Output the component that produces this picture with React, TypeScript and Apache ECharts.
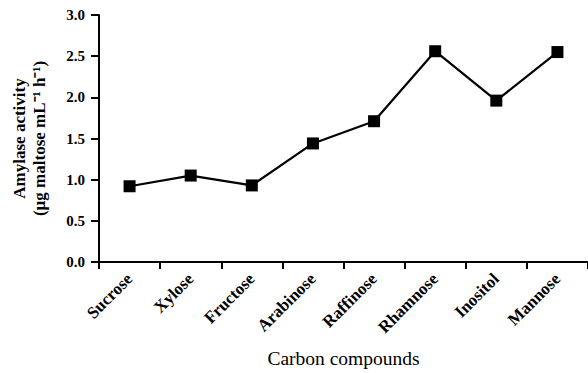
import React, { useEffect, useRef } from "react";
import * as echarts from "echarts";

const categories = ["Sucrose", "Xylose", "Fructose", "Arabinose", "Raffinose", "Rhamnose", "Inositol", "Mannose"];
const activity = [0.92, 1.05, 0.93, 1.44, 1.71, 2.56, 1.96, 2.55];
const yTicks = { min: 0, max: 3, interval: 0.5 };

const FONT = "Times New Roman, Liberation Serif, serif";

export default function App() {
  const ref = useRef<HTMLDivElement>(null);
  useEffect(() => {
    if (!ref.current) return;
    document.body.style.margin = "0";
    const chart = echarts.init(ref.current, null, { renderer: "svg" });
    chart.setOption({
      animation: false,
      backgroundColor: "#ffffff",
      textStyle: { fontFamily: FONT },
      grid: { left: 99, right: -6, top: 15, bottom: 110, containLabel: false },
      xAxis: {
        type: "category",
        data: categories,
        boundaryGap: true,
        axisLine: { lineStyle: { color: "#000", width: 2 } },
        axisTick: { show: true, length: 7, lineStyle: { color: "#000", width: 2 } },
        axisLabel: {
          rotate: 45,
          margin: 14,
          color: "#000",
          fontFamily: FONT,
          fontWeight: "bold",
          fontSize: 17,
          interval: 0,
        },
        name: "Carbon compounds",
        nameLocation: "middle",
        nameGap: 86,
        nameTextStyle: { color: "#000", fontFamily: FONT, fontSize: 19.5 },
      },
      yAxis: {
        type: "value",
        min: yTicks.min,
        max: yTicks.max,
        interval: yTicks.interval,
        splitLine: { show: false },
        axisLine: { show: true, lineStyle: { color: "#000", width: 2 } },
        axisTick: { show: true, length: 8, lineStyle: { color: "#000", width: 2 } },
        axisLabel: {
          color: "#000",
          fontFamily: FONT,
          fontWeight: "bold",
          fontSize: 15,
          margin: 14,
          formatter: (v: number) => v.toFixed(1),
        },
        name: "Amylase activity\n(µg maltose mL⁻¹ h⁻¹)",
        nameLocation: "middle",
        nameGap: 50,
        nameTextStyle: { color: "#000", fontFamily: FONT, fontWeight: "bold", fontSize: 17, lineHeight: 20 },
      },
      series: [
        {
          type: "line",
          data: activity,
          symbol: "rect",
          symbolSize: 12,
          itemStyle: { color: "#000" },
          lineStyle: { color: "#000", width: 2.2 },
        },
      ],
    });
    return () => chart.dispose();
  }, []);
  return <div ref={ref} style={{ width: 588, height: 373 }} />;
}
